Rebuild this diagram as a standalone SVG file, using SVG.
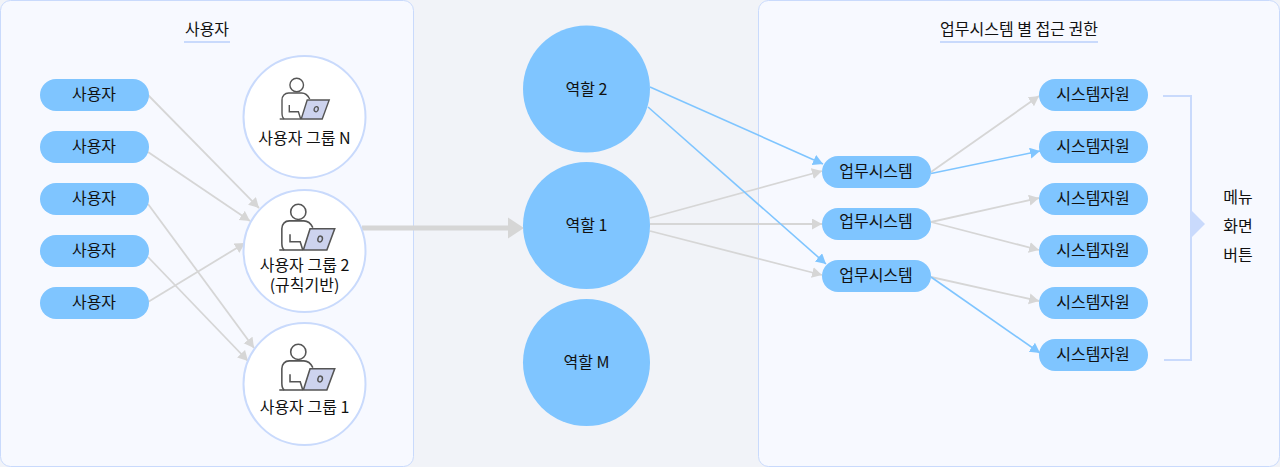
<svg xmlns="http://www.w3.org/2000/svg" width="1280" height="467" viewBox="0 0 1280 467">
<style>
text{font-family:"Noto Sans CJK KR","Noto Sans",sans-serif;font-size:16px;fill:#111;text-anchor:middle}
.panel{fill:#f7f9ff;stroke:#c9dafc;stroke-width:1}
.rule{stroke:#c9dafc;stroke-width:2;fill:none}
.pill{fill:#7fc5ff}
.group{fill:#fff;stroke:#c9dafc;stroke-width:2}
.role{fill:#7fc5ff}
.g{stroke:#d6d6d6;stroke-width:1.8;fill:none;marker-end:url(#ag)}
.b{stroke:#7fc5ff;stroke-width:1.6;fill:none;marker-end:url(#ab)}
.ink{fill:none;stroke:#555;stroke-width:1.4}
</style>
<defs>
<marker id="ag" markerUnits="userSpaceOnUse" markerWidth="12" markerHeight="12" refX="10" refY="5.500" orient="auto"><path d="M0 0L10 5.500L0 11Z" fill="#d6d6d6"/></marker>
<marker id="ab" markerUnits="userSpaceOnUse" markerWidth="12" markerHeight="12" refX="10" refY="5.500" orient="auto"><path d="M0 0L10 5.500L0 11Z" fill="#7fc5ff"/></marker>
<g id="person">
<circle cx="0" cy="-34" r="6.800" class="ink"/>
<path class="ink" d="M13 -20C11 -24 8 -26 5 -26H-8C-12 -26 -14.700 -23 -14.700 -19V-6C-14.700 -3 -14 -1 -12.500 0M-7.400 -14V-7.300H1.700L4 0"/>
<path class="ink" d="M-17 0H4"/>
<path d="M10.500 -19H32.500L25.500 0H4.500Z" fill="#cdd3ee" stroke="#555" stroke-width="1.400"/>
<ellipse cx="19.500" cy="-9.800" rx="2" ry="2.600" fill="none" stroke="#555" stroke-width="1.300" transform="rotate(15 19.500 -9.800)"/>
</g>
</defs>
<rect id="canvas" width="1280" height="467" fill="#f1f3f8"/>
<g id="panel-users">
<rect class="panel" x="0.500" y="0.500" width="413" height="466" rx="10"/>
<text x="207" y="35">사용자</text>
<path class="rule" d="M184 42H230"/>
</g>
<g id="panel-systems">
<rect class="panel" x="758.500" y="0.500" width="521" height="466" rx="10"/>
<text x="1019" y="35">업무시스템 별 접근 권한</text>
<path class="rule" d="M940 42H1098"/>
</g>
<g id="connectors">
<path class="g" d="M148 95L259 208"/>
<path class="g" d="M148 152L250 221"/>
<path class="g" d="M148 204L254 348"/>
<path class="g" d="M148 257L248 361"/>
<path class="g" d="M148 302L245 243"/>
<path class="g" d="M650 218L822 171"/>
<path class="g" d="M650 224H822"/>
<path class="g" d="M650 231L822 275"/>
<path class="b" d="M650 87L823 164"/>
<path class="b" d="M648 107L826 264"/>
<path class="g" d="M931 172L1039 96"/>
<path class="b" d="M931 173.500L1040 151"/>
<path class="g" d="M931 222L1039 198"/>
<path class="g" d="M931 222L1039 250"/>
<path class="g" d="M931 277L1039 301"/>
<path class="b" d="M931 277L1040 353"/>
<path d="M362 228H510" stroke="#d6d6d6" stroke-width="5" fill="none"/>
<path d="M508 217.500L524 228L508 238.500Z" fill="#d6d6d6"/>
</g>
<g id="user-1"><rect class="pill" x="40" y="79" width="109" height="32" rx="16"/><text x="94" y="100">사용자</text></g>
<g id="user-2"><rect class="pill" x="40" y="131" width="109" height="32" rx="16"/><text x="94" y="152">사용자</text></g>
<g id="user-3"><rect class="pill" x="40" y="183" width="109" height="32" rx="16"/><text x="94" y="204">사용자</text></g>
<g id="user-4"><rect class="pill" x="40" y="235" width="109" height="32" rx="16"/><text x="94" y="256">사용자</text></g>
<g id="user-5"><rect class="pill" x="40" y="287" width="109" height="32" rx="16"/><text x="94" y="308">사용자</text></g>
<g id="group-n"><circle class="group" cx="304.500" cy="117" r="61"/><use href="#person" transform="translate(296.700 119)"/><text x="304.500" y="144">사용자 그룹 N</text></g>
<g id="group-2"><circle class="group" cx="304.500" cy="251" r="61"/><use href="#person" transform="translate(298.300 250) scale(1.120)"/><text x="304.500" y="271">사용자 그룹 2<tspan x="304.500" dy="20">(규칙기반)</tspan></text></g>
<g id="group-1"><circle class="group" cx="304.500" cy="384" r="61"/><use href="#person" transform="translate(298.300 390) scale(1.120)"/><text x="304.500" y="413">사용자 그룹 1</text></g>
<g id="role-2"><circle class="role" cx="586.500" cy="89" r="63.500"/><text x="586.500" y="95">역할 2</text></g>
<g id="role-1"><circle class="role" cx="586.500" cy="225.500" r="63.500"/><text x="586.500" y="231">역할 1</text></g>
<g id="role-m"><circle class="role" cx="586.500" cy="362.500" r="63.500"/><text x="586.500" y="368">역할 M</text></g>
<g id="system-1"><rect class="pill" x="822" y="156" width="109" height="32" rx="16"/><text x="876" y="177">업무시스템</text></g>
<g id="system-2"><rect class="pill" x="822" y="208" width="109" height="32" rx="16"/><text x="876" y="227">업무시스템</text></g>
<g id="system-3"><rect class="pill" x="822" y="260" width="109" height="32" rx="16"/><text x="876" y="281">업무시스템</text></g>
<g id="resource-1"><rect class="pill" x="1039" y="79" width="109" height="32" rx="16"/><text x="1093" y="100">시스템자원</text></g>
<g id="resource-2"><rect class="pill" x="1039" y="131" width="109" height="32" rx="16"/><text x="1093" y="152">시스템자원</text></g>
<g id="resource-3"><rect class="pill" x="1039" y="183" width="109" height="32" rx="16"/><text x="1093" y="204">시스템자원</text></g>
<g id="resource-4"><rect class="pill" x="1039" y="235" width="109" height="32" rx="16"/><text x="1093" y="256">시스템자원</text></g>
<g id="resource-5"><rect class="pill" x="1039" y="287" width="109" height="32" rx="16"/><text x="1093" y="308">시스템자원</text></g>
<g id="resource-6"><rect class="pill" x="1039" y="339" width="109" height="32" rx="16"/><text x="1093" y="360">시스템자원</text></g>
<g id="bracket">
<path class="rule" d="M1163 96H1191V360H1164"/>
<path d="M1191 210L1205 224L1191 238Z" fill="#c9dafc"/>
</g>
<g id="resource-kinds">
<text x="1238" y="203">메뉴</text>
<text x="1238" y="232">화면</text>
<text x="1238" y="261">버튼</text>
</g>
</svg>
